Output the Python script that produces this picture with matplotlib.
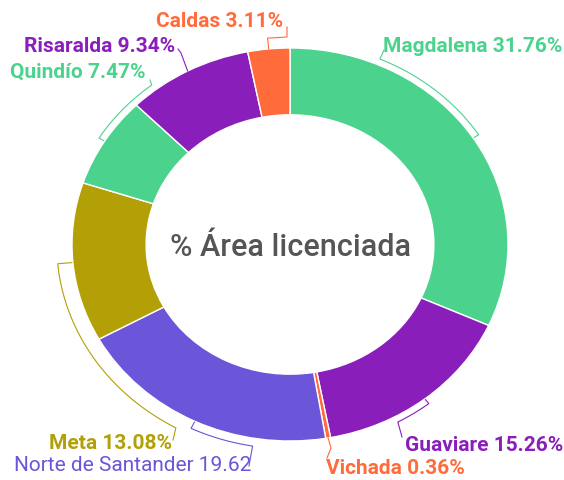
import numpy as np
import matplotlib
matplotlib.use("Agg")
import matplotlib.pyplot as plt

# ---- data ----
departments = ["Magdalena", "Guaviare", "Vichada", "Norte de Santander",
               "Meta", "Quindío", "Risaralda", "Caldas"]
shares = [31.76, 15.26, 0.36, 19.62, 13.08, 7.47, 9.34, 3.11]
center_title = "% Área licenciada"
palette = ["#4BD38E", "#8A1EBB", "#FF6B3B", "#6B55D8", "#B2A006"]
max_label_chars = 24

W, H = 564, 481
fig = plt.figure(figsize=(W / 100, H / 100), dpi=100)
ax = fig.add_axes([0, 0, 1, 1])
ax.set_axis_off()

# donut geometry (pixels): centre and radii (chart is stretched horizontally)
CX, CY, RX, RY = 290.0, 245.5, 218.0, 196.5

colors = [palette[i % len(palette)] for i in range(len(shares))]
ax.pie(shares, colors=colors, startangle=90, counterclock=False, radius=1.0,
       wedgeprops=dict(width=0.34, edgecolor="white", linewidth=1.0))
ax.set_aspect("auto")
ax.set_xlim(-CX / RX, (W - CX) / RX)
ax.set_ylim(-(H - CY) / RY, CY / RY)
ax.set_axis_off()

ax.text(0, (CY - 248) / RY, center_title, ha="center", va="center",
        fontsize=22, color="#555555", family=["Roboto", "DejaVu Sans"],
        fontweight="medium")


def P(theta, r):
    t = np.radians(theta)
    return r * np.sin(t), r * np.cos(t)


def px(x, y):
    return (x - CX) / RX, (CY - y) / RY


# mid angles (clockwise from top) from data
total = sum(shares)
cum = np.cumsum([0] + shares)
mids = [(cum[i] + cum[i + 1]) / 2 / total * 360 for i in range(len(shares))]

# connector layout: (arc end angle, arc radius), tail points in px, label anchor px
layout = {
    "Magdalena": dict(arc=(23.6, 1.03), tail=[(384, 51)], anchor=(383, 47), ha="left"),
    "Guaviare": dict(arc=(151.3, 1.03), tail=[(402, 438)], anchor=(405, 446), ha="left"),
    "Vichada": dict(arc=None, tail=[(331, 449), (327, 459)], anchor=(326, 469), ha="left"),
    "Norte de Santander": dict(arc=(189.5, 1.04), tail=[(249, 467)], anchor=(251, 466), ha="right"),
    "Meta": dict(arc=(209.3, 1.07), tail=[(173, 441)], anchor=(172, 444), ha="right"),
    "Quindío": dict(arc=(322.0, 1.03), tail=[(150, 81)], anchor=(145, 72), ha="right"),
    "Risaralda": dict(arc=None, tail=[(181, 54), (178, 50)], anchor=(175, 47), ha="right"),
    "Caldas": dict(arc=None, tail=[("r", 1.055), (287, 38), (287, 28)], anchor=(283, 22), ha="right"),
}

for name, val, col, mid in zip(departments, shares, colors, mids):
    lay = layout[name]
    xs, ys = [], []
    if lay["arc"] is not None:
        end, r = lay["arc"]
        x0, y0 = P(mid, 1.005)
        xs.append(x0); ys.append(y0)
        th = np.linspace(mid, end, 60)
        ax_, ay_ = P(th, r)
        xs += list(ax_); ys += list(ay_)
    else:
        x0, y0 = P(mid, 1.0)
        xs.append(x0); ys.append(y0)
    for t in lay["tail"]:
        if t[0] == "r":
            x1, y1 = P(mid, t[1])
        else:
            x1, y1 = px(*t)
        xs.append(x1); ys.append(y1)
    ax.plot(xs, ys, color=col, lw=0.8, clip_on=False, solid_joinstyle="miter")

    label = f"{name} {val:.2f}%"
    truncated = len(label) > max_label_chars
    label = label[:max_label_chars]
    lx, ly = px(*lay["anchor"])
    ax.text(lx, ly, label, ha=lay["ha"], va="center", fontsize=15, color=col,
            family=["Roboto", "DejaVu Sans"],
            fontweight="normal" if truncated else "bold")

fig.savefig("out.png", dpi=100, facecolor="white")
